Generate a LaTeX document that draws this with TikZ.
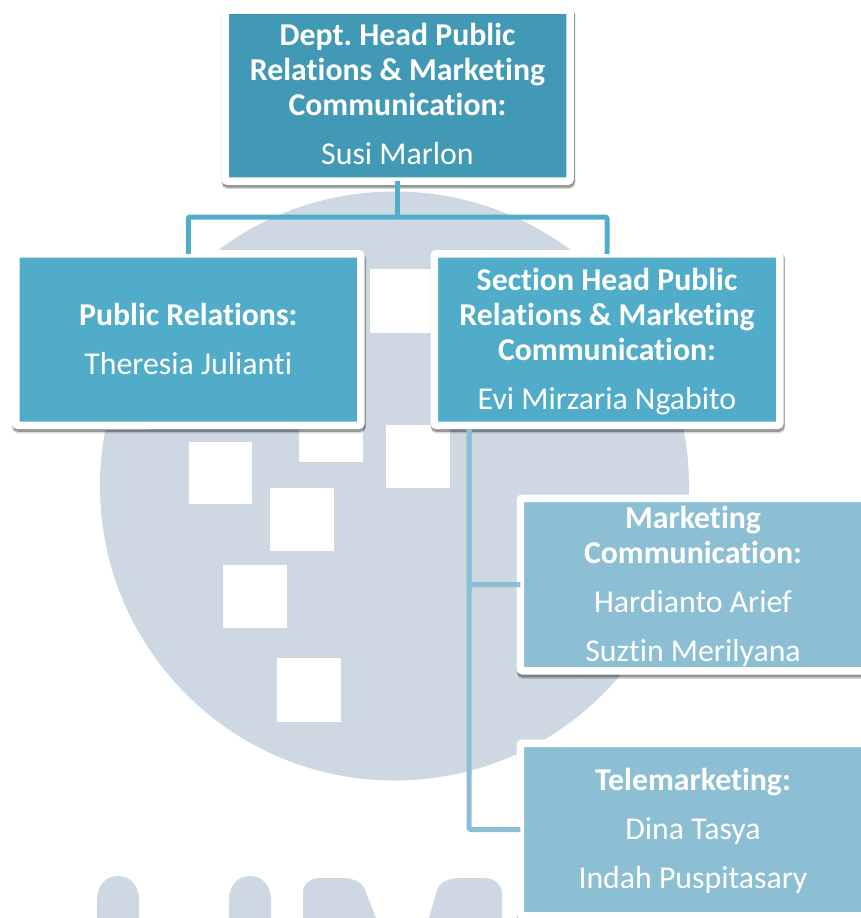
\documentclass[tikz,border=0pt]{standalone}
\usepackage{fontspec}
\setmainfont{Carlito}[RawFeature={-liga}]
\usetikzlibrary{shadows}
\definecolor{wmk}{HTML}{CDD8E3}
\definecolor{topc}{HTML}{4199B5}
\definecolor{midc}{HTML}{50ACC8}
\definecolor{lowc}{HTML}{8CBFD3}
\tikzset{
  orgbox/.style={draw=white,line width=7.5pt,rounded corners=2pt,text=white,align=center,
    inner sep=0pt,outer sep=0pt,
    font=\fontsize{31.8}{35}\selectfont,
    drop shadow={shadow xshift=0.8pt,shadow yshift=-3.5pt,opacity=.15,draw=black,line width=9pt,fill=none},
    drop shadow={shadow xshift=0.8pt,shadow yshift=-2.5pt,opacity=.30,draw=black,line width=8pt,fill=none}},
  wsq/.style={fill=white,draw=none},
  wsh/.style={fill=wmk,draw=none},
  topconn/.style={draw=midc,line width=5pt,rounded corners=2pt},
  lowconn/.style={draw=lowc,line width=5pt,rounded corners=2pt}
}
\newcommand{\hd}[1]{\textbf{#1}}
\newcommand{\lft}[1]{\rule{0pt}{#1}}
\newcommand{\drp}[1]{\rule[-#1]{0pt}{#1}}
\begin{document}
\begin{tikzpicture}[x=1pt,y=-1pt]
\useasboundingbox (0,0) rectangle (861,918);
\clip (0,0) rectangle (861,918);
% watermark
\fill[wmk] (394.5,486) circle (294.5pt);
\fill[wsq] (370,269) rectangle (433,333);
\fill[wsq] (189,442) rectangle (252,504);
\fill[wsq] (299,399) rectangle (363,462);
\fill[wsq] (386,425) rectangle (450,488);
\fill[wsq] (270,488) rectangle (334,551);
\fill[wsq] (223,565) rectangle (287,628);
\fill[wsq] (277,658) rectangle (341,722);
\fill[wsq] (87,367) rectangle (150,430);
\fill[wsh] (97,918) -- (97,900) .. controls (97,885) and (106,876) .. (118,876) .. controls (130,876) and (139,885) .. (139,900) -- (139,918) -- cycle;
\fill[wsh] (229,918) -- (229,900) .. controls (229,885) and (238,876) .. (250,876) .. controls (262,876) and (271,885) .. (271,900) -- (271,918) -- cycle;
\fill[wsh] (303,918) -- (303,893) .. controls (303,883) and (310,878) .. (322,878) -- (340,878) .. controls (354,878) and (362,882) .. (365,890) -- (376,918) -- cycle;
\fill[wsh] (429,918) -- (437,890) .. controls (440,882) and (448,878) .. (462,878) -- (482,878) .. controls (495,878) and (502,884) .. (502,895) -- (502,918) -- cycle;
% boxes
\node[orgbox,fill=topc,minimum width=345pt,minimum height=171pt] (top) at (397.5,95.5)
  {\hd{Dept.\ Head Public}\\\hd{Relations \& Marketing}\\\hd{Communication:}\\[14pt]Susi Marlon\drp{3pt}};
\node[orgbox,fill=midc,minimum width=345pt,minimum height=171.5pt] (pr) at (188.25,339.5)
  {\hd{Public Relations:}\\[14pt]Theresia Julianti\drp{2pt}};
\node[orgbox,fill=midc,minimum width=345.5pt,minimum height=171.5pt] (sec) at (607,339.5)
  {\lft{27pt}\hd{Section Head Public}\\\hd{Relations \& Marketing}\\\hd{Communication:}\\[14pt]Evi Mirzaria Ngabito};
\node[orgbox,fill=lowc,minimum width=345.5pt,minimum height=172.5pt] (mc) at (693,584.5)
  {\lft{26pt}\hd{Marketing}\\\hd{Communication:}\\[14pt]Hardianto Arief\\[14pt]Suztin Merilyana};
\node[orgbox,fill=lowc,minimum width=345.5pt,minimum height=172.5pt] (tele) at (693,829.5)
  {\lft{25pt}\hd{Telemarketing:}\\[14pt]Dina Tasya\\[14pt]Indah Puspitasary};
% connectors
\coordinate (bus) at (397.5,217);
\coordinate (spine) at (469,429);
\draw[topconn] (top.south) -- (bus);
\draw[topconn] (pr.north) |- (bus);
\draw[topconn] (sec.north) |- (bus);
\draw[lowconn] (spine) |- (mc.west);
\draw[lowconn] (spine) |- (tele.west);
\end{tikzpicture}
\end{document}
